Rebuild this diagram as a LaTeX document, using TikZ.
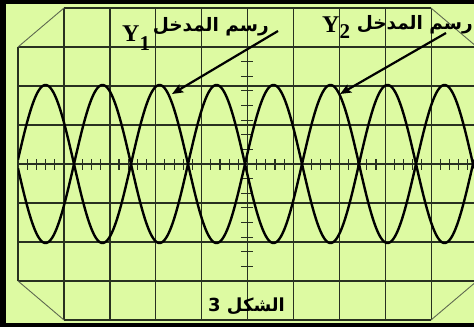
\documentclass[tikz,border=0pt]{standalone}
\usepackage{fontspec}
\setmainfont{Liberation Serif}
\newfontfamily\arabicfont[Script=Arabic]{DejaVu Sans}
\TeXXeTstate=1
\usetikzlibrary{arrows.meta}
\definecolor{screen}{RGB}{221,250,162}
\definecolor{gridc}{RGB}{40,48,32}
\definecolor{chamc}{RGB}{95,105,80}
\tikzset{
  gridline/.style={draw=gridc, line width=1.3pt},
  chamfer/.style={draw=chamc, line width=0.9pt},
  tickline/.style={draw=gridc, line width=1.1pt},
  wave/.style={draw=black, line width=2.4pt},
  pointer/.style={draw=black, line width=2.2pt, -{Stealth[length=11pt,width=9pt,inset=2pt]}},
  ylabel/.style={font=\bfseries\fontsize{24}{24}\selectfont, inner sep=0pt, anchor=base west},
  arlabel/.style={font=\arabicfont\bfseries\fontsize{18.5}{18.5}\selectfont, inner sep=0pt},
  figlabel/.style={font=\arabicfont\bfseries\fontsize{18}{18}\selectfont, inner sep=0pt},
}
\begin{document}
\begin{tikzpicture}[x=1pt, y=-1pt]
\useasboundingbox (0,0) rectangle (474,327);
% frame
\fill[black] (0,0) rectangle (474,327);
\fill[screen] (6,4) rectangle (474,323);
\begin{scope}
\clip (6,4) rectangle (474,323);
% grid
\draw[gridline] (64,8) -- (431,8);
\draw[gridline] (64,320) -- (431,320);
\foreach \k in {0,...,6} \draw[gridline] (18,47+39*\k) -- (477,47+39*\k);
\draw[gridline] (18,47) -- (18,281);
\foreach \k in {0,...,8} \draw[gridline] (64+45.9*\k,8) -- (64+45.9*\k,320);
% chamfers
\draw[chamfer] (18,47) -- (64,8);
\draw[chamfer] (18,281) -- (64,320);
\draw[chamfer] (431,8) -- (477,47);
\draw[chamfer] (431,320) -- (477,281);
% axis ticks
\foreach \k in {0,...,9} \foreach \j in {1,...,4}
  \draw[tickline] (18+45.9*\k+9.18*\j,159) -- (18+45.9*\k+9.18*\j,170);
\foreach \k in {0,...,16} \draw[tickline] (241,47+14.625*\k) -- (253,47+14.625*\k);
% waves
\begin{scope}
\clip (18,40) rectangle (474,290);
\draw[wave] plot[domain=18:474, samples=400, smooth] (\x, {164-79*sin(3.15789*(\x-245))});
\draw[wave] plot[domain=18:474, samples=400, smooth] (\x, {164+79*sin(3.15789*(\x-245))});
\end{scope}
% labels
\node[ylabel] (y1) at (122,41) {Y\raisebox{-9pt}{\fontsize{21}{21}\selectfont 1}};
\node[arlabel, anchor=base east] (t1) at (269,31) {\beginR رسم المدخل\endR};
\node[ylabel] (y2) at (322,32) {Y\raisebox{-6pt}{\fontsize{21}{21}\selectfont 2}};
\node[arlabel, anchor=base east] (t2) at (473,29) {\beginR رسم المدخل\endR};
\node[figlabel, anchor=base west] (fig) at (208,311) {\beginR الشكل 3\endR};
% arrows
\coordinate (a1s) at (278,31);
\coordinate (a1e) at (172,94);
\coordinate (a2s) at (446,33);
\coordinate (a2e) at (340,94);
\draw[pointer] (a1s) -- (a1e);
\draw[pointer] (a2s) -- (a2e);
\end{scope}
\end{tikzpicture}
\end{document}
